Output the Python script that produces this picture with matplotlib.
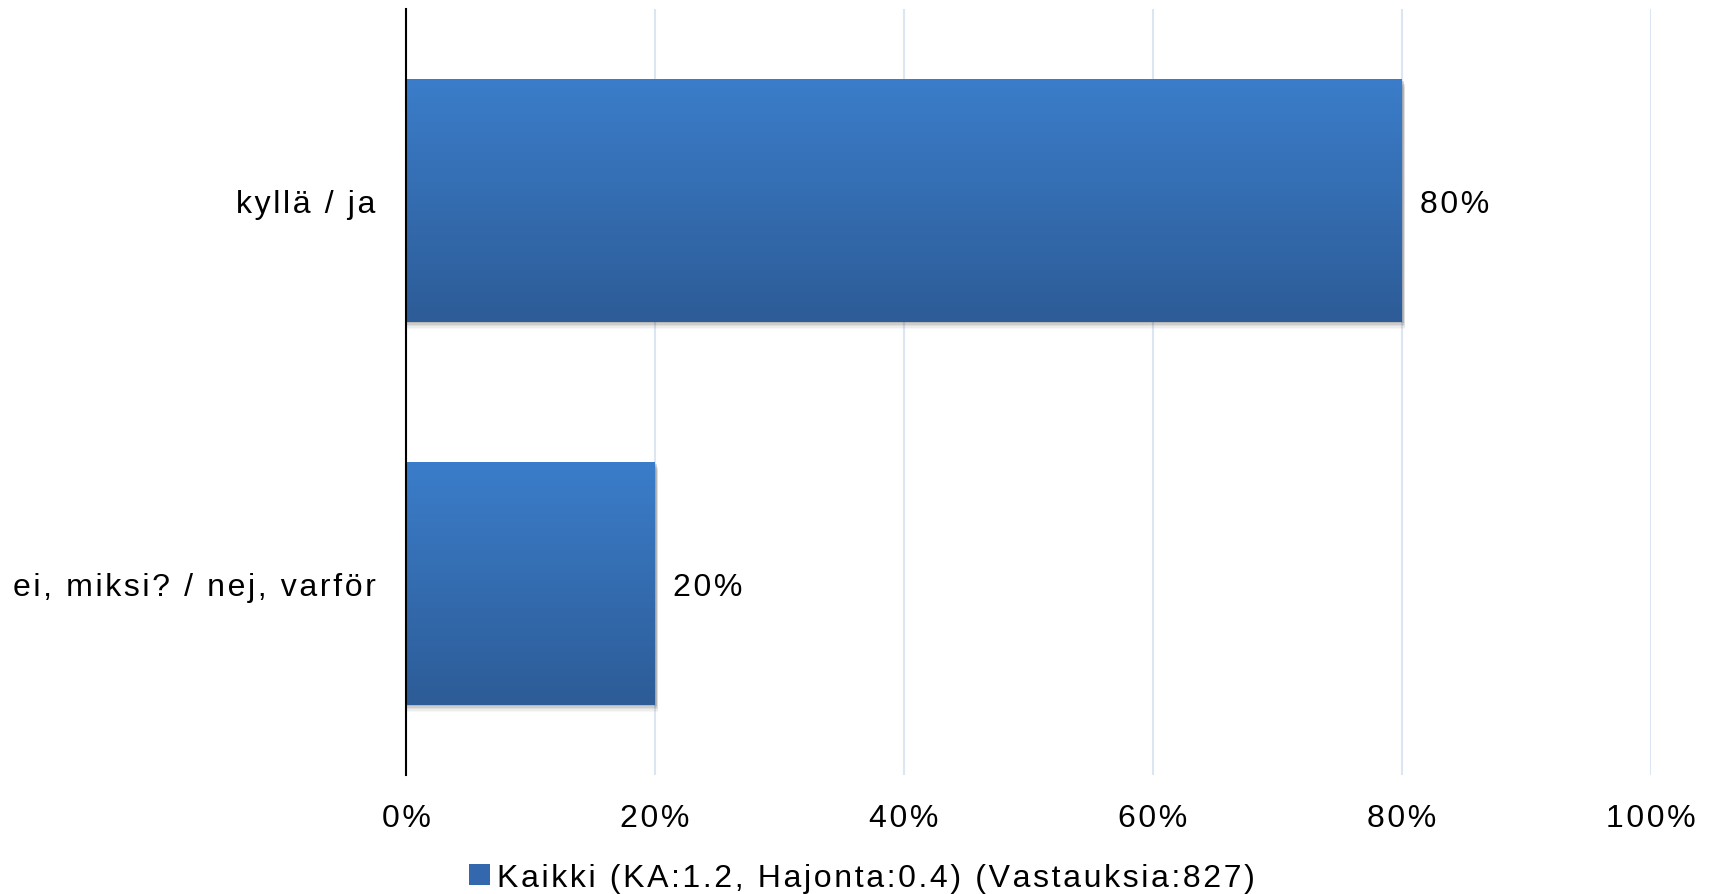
import numpy as np
import matplotlib
matplotlib.use("Agg")
import matplotlib.pyplot as plt
from matplotlib.colors import LinearSegmentedColormap
from matplotlib.patches import Rectangle

categories = ["kyllä / ja", "ei, miksi? / nej, varför"]
values = [80, 20]
xticks = [0, 20, 40, 60, 80, 100]
xtick_labels = ["0%", "20%", "40%", "60%", "80%", "100%"]
legend_label = "Kaikki (KA:1.2, Hajonta:0.4) (Vastauksia:827)"

HS = "\u200a"
def sp(s):
    return HS.join(list(s))

FAM = ["Liberation Sans", "DejaVu Sans"]
FS = 23

fig = plt.figure(figsize=(17.11, 8.95), dpi=100)
ax = fig.add_axes([406/1711, 1-776/895, (1651-406)/1711, (776-10)/895])

ypos = np.arange(len(categories))
bh = 0.633
bars = ax.barh(ypos, values, height=bh, color="#3A7CC9", zorder=3)
ax.set_ylim(len(categories)-0.5, -0.5)
ax.set_xlim(0, 100)

top_c = "#3B7DCA"
bot_c = "#2D5C97"
cmap = LinearSegmentedColormap.from_list("g", [top_c, bot_c])
grad = np.linspace(0, 1, 256).reshape(-1, 1)
for b in bars:
    x0, y0 = b.get_x(), b.get_y()
    w, h = b.get_width(), b.get_height()
    # shadow
    for k, a in enumerate([0.10, 0.08, 0.06, 0.04, 0.03]):
        off = 0.004 + k * 0.004
        ax.add_patch(Rectangle((x0 + 0.1, y0 + off), w + 0.05 + k*0.03, h, color="black",
                               alpha=a, lw=0, zorder=2))
    im = ax.imshow(grad, extent=(x0, x0 + w, y0 + h, y0), aspect="auto",
                   cmap=cmap, zorder=4, interpolation="bicubic")
    im.set_clip_path(b)
ax.set_ylim(len(categories)-0.5, -0.5)
ax.set_xlim(0, 100)

for y, v in zip(ypos, values):
    ax.text(v + 1.45, y, sp(f"{v}%"), va="center_baseline", ha="left", fontsize=FS,
            family=FAM, color="black", zorder=5)

ax.set_xticks(xticks)
ax.set_xticklabels([sp(t) for t in xtick_labels], fontsize=FS, family=FAM)
ax.set_yticks(ypos)
ax.set_yticklabels([sp(c) for c in categories], fontsize=FS, family=FAM)
ax.tick_params(axis="both", length=0)
ax.tick_params(axis="x", pad=20)
ax.tick_params(axis="y", pad=22)

ax.grid(axis="x", color="#DCE6F2", lw=1.5, zorder=0)
ax.set_axisbelow(True)
for s in ["top", "right", "bottom"]:
    ax.spines[s].set_visible(False)
ax.spines["left"].set_color("black")
ax.spines["left"].set_linewidth(1.5)
ax.spines["left"].set_zorder(6)

handle = Rectangle((0, 0), 1, 1, facecolor="#3468AE")
leg = fig.legend([handle], [sp(legend_label)], loc="center", bbox_to_anchor=(862/1711, 1-879/895),
                 frameon=False, handlelength=0.65, handleheight=0.65, handletextpad=0.2,
                 prop={"family": FAM, "size": FS})

fig.savefig("out.png", dpi=100)
